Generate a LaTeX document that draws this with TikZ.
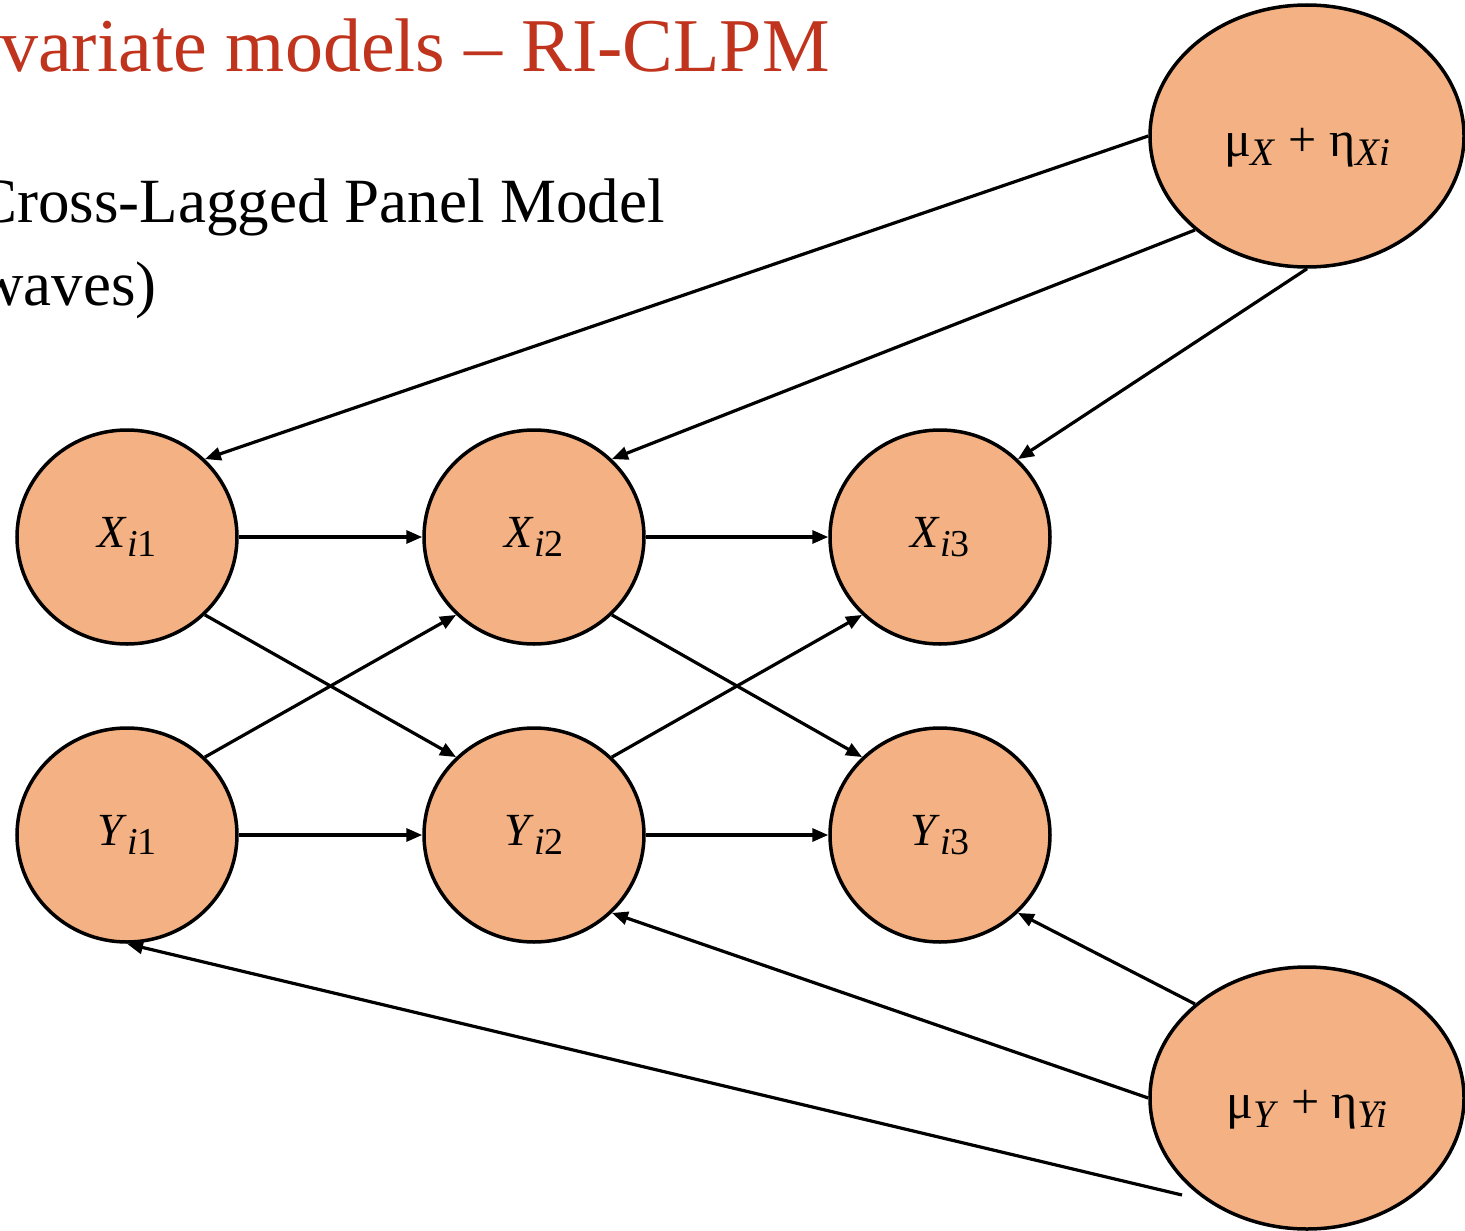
\documentclass[tikz,border=0pt]{standalone}
\usepackage{fontspec}
\setmainfont{Liberation Serif}
\usetikzlibrary{arrows.meta,shapes.geometric}
\definecolor{nodefill}{RGB}{244,177,131}
\definecolor{titlered}{RGB}{192,52,30}

% observed variable label: italic letter with subscript "i<wave>"
\newcommand\obs[2]{\textit{#1}\lower9pt\hbox{\fontsize{38}{38}\selectfont\textit{i}#2}}
% lowered subscript for the random-intercept labels
\newcommand\lsub[1]{\lower9pt\hbox{\fontsize{39}{39}\selectfont\textit{#1}}}

\begin{document}
\begin{tikzpicture}[x=1pt,y=-1pt,
  var/.style={ellipse, draw=black, line width=3.5pt, fill=nodefill,
    minimum width=220pt, minimum height=214pt, inner sep=0pt,
    font=\fontsize{46}{46}\selectfont},
  latent/.style={var, minimum width=314pt, minimum height=262pt},
  effect/.style={line width=3.2pt, -{Triangle[length=16pt,width=13pt]}},
  lbltext/.style={inner sep=0pt, font=\fontsize{50}{50}\selectfont},
]
\useasboundingbox (0,0) rectangle (1465,1231);

% headings
\node[anchor=base west, inner sep=0pt, text=titlered,
      font=\fontsize{76}{76}\selectfont] (title) at (0,72) {variate models – RI-CLPM};
\node[anchor=base east, inner sep=0pt,
      font=\fontsize{63}{63}\selectfont] (model) at (665,222) {Cross-Lagged Panel Model};
\node[anchor=base east, inner sep=0pt,
      font=\fontsize{63}{63}\selectfont] (waves) at (157,305) {waves)};

% observed variables
\node[var] (X1) at (127,537) {\obs{X}{1}};
\node[var] (X2) at (534,537) {\obs{X}{2}};
\node[var] (X3) at (940,537) {\obs{X}{3}};
\node[var] (Y1) at (127,835) {\obs{Y}{1}};
\node[var] (Y2) at (534,835) {\obs{Y}{2}};
\node[var] (Y3) at (940,835) {\obs{Y}{3}};

% random intercepts
\node[latent, label={[lbltext, name=muXtext, yshift=-12pt]center:μ\lsub{X} + η\lsub{Xi}}] (muX) at (1307,136) {};
\node[latent, label={[lbltext, name=muYtext, yshift=-12pt]center:μ\lsub{Y} + η\lsub{Yi}}] (muY) at (1307,1098) {};
\coordinate (muYtail) at (1182,1195);

% autoregressive paths
\draw[effect] (X1) -- (X2);
\draw[effect] (X2) -- (X3);
\draw[effect] (Y1) -- (Y2);
\draw[effect] (Y2) -- (Y3);

% cross-lagged paths
\draw[effect] (X1.315) -- (Y2.135);
\draw[effect] (Y1.45) -- (X2.225);
\draw[effect] (X2.315) -- (Y3.135);
\draw[effect] (Y2.45) -- (X3.225);

% loadings of the random intercepts
\draw[effect] (muX.west) -- (X1.45);
\draw[effect] (muX.220) -- (X2.45);
\draw[effect] (muX.south) -- (X3.45);
\draw[effect] (muY.140) -- (Y3.315);
\draw[effect] (muY.west) -- (Y2.315);
\draw[effect] (muYtail) -- (Y1.south);
\end{tikzpicture}
\end{document}
